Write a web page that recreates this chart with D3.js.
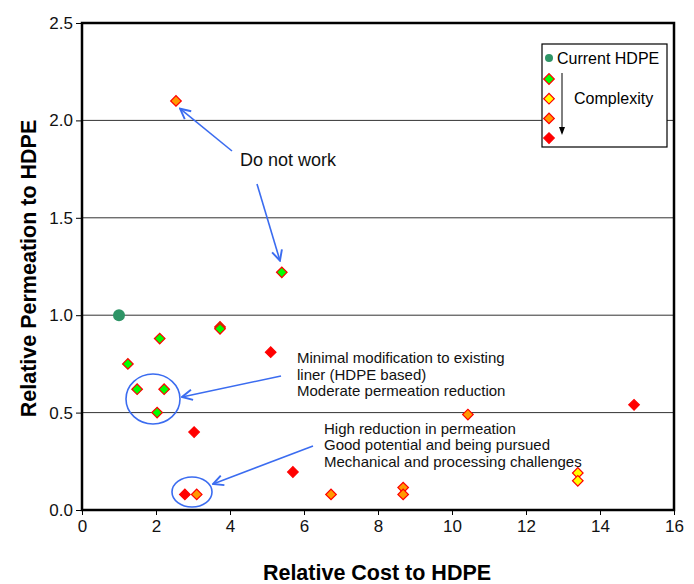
<html>
<head>
<script src="https://d3js.org/d3.v7.min.js"></script>
<style>
  body { margin: 0; background: #fff; }
  text { font-family: "Liberation Sans Narrow", "Arial Narrow", "Liberation Sans", Arial, sans-serif; }
</style>
</head>
<body>
<svg></svg>
<script>
// values
var cost   = [2.54, 5.4, 3.73, 3.73, 2.1, 5.1, 1.24, 1.49, 2.22, 2.03, 3.03, 5.7, 2.78, 3.1, 10.43, 14.92, 6.73, 8.68, 8.68, 13.4, 13.4];
var perm   = [2.10, 1.22, 0.94, 0.93, 0.88, 0.81, 0.75, 0.62, 0.62, 0.50, 0.40, 0.195, 0.08, 0.08, 0.49, 0.54, 0.08, 0.115, 0.08, 0.19, 0.15];
// complexity level 1..4 (green, yellow, orange, red)
var level  = [3, 1, 1, 1, 1, 4, 1, 1, 1, 1, 4, 4, 4, 3, 3, 4, 3, 3, 3, 2, 2];
var hdpe = {x: 1, y: 1};
var xTicks = [0, 2, 4, 6, 8, 10, 12, 14, 16];
var yTicks = [0, 0.5, 1.0, 1.5, 2.0, 2.5];
var levelColors = ["#00ff00", "#ffff00", "#ff9900", "#ff0000"];

var width = 694, height = 584;
var margin = {left: 82, right: 20, top: 23, bottom: 74};

var svg = d3.select("svg")
    .attr("width", width)
    .attr("height", height);

var x = d3.scaleLinear().domain([0, 16]).range([margin.left, width - margin.right]);
var y = d3.scaleLinear().domain([0, 2.5]).range([height - margin.bottom, margin.top]);

// gridlines
svg.append("g")
  .selectAll("line")
  .data(yTicks.slice(1, -1))
  .enter().append("line")
    .attr("x1", x(0)).attr("x2", x(16))
    .attr("y1", function(d) { return y(d); })
    .attr("y2", function(d) { return y(d); })
    .attr("stroke", "#333").attr("stroke-width", 1);

// axes
var xAxis = svg.append("g")
    .attr("transform", "translate(0," + y(0) + ")")
    .call(d3.axisBottom(x).tickValues(xTicks).tickSize(5).tickPadding(5).tickFormat(d3.format("d")));
var yAxis = svg.append("g")
    .attr("transform", "translate(" + x(0) + ",0)")
    .call(d3.axisLeft(y).tickValues(yTicks).tickSize(6).tickPadding(3).tickFormat(d3.format(".1f")));
[xAxis, yAxis].forEach(function(a) {
  a.select(".domain").remove();
  a.selectAll("text").attr("font-size", 17).attr("fill", "#111")
    .style("font-family", "'Liberation Sans Narrow', 'Arial Narrow', sans-serif");
  a.selectAll("line").attr("stroke", "#000");
});

// frame
svg.append("rect")
    .attr("x", x(0)).attr("y", y(2.5))
    .attr("width", x(16) - x(0)).attr("height", y(0) - y(2.5))
    .attr("fill", "none").attr("stroke", "#000").attr("stroke-width", 2.5);

// axis titles
svg.append("text")
    .attr("x", (x(0) + x(16)) / 2 - 1).attr("y", 580)
    .attr("text-anchor", "middle")
    .attr("font-size", 21.5).attr("font-weight", "bold")
    .style("font-family", "'Liberation Sans', Arial, sans-serif")
    .text("Relative Cost to HDPE");
svg.append("text")
    .attr("transform", "translate(36," + (y(1.25) + 2) + ") rotate(-90)")
    .attr("text-anchor", "middle")
    .attr("font-size", 21.5).attr("font-weight", "bold")
    .style("font-family", "'Liberation Sans', Arial, sans-serif")
    .text("Relative Permeation to HDPE");

// arrow marker
var blue = "#3b6cf0";
svg.append("defs").append("marker")
    .attr("id", "arr").attr("viewBox", "0 0 10 10")
    .attr("refX", 9).attr("refY", 5)
    .attr("markerWidth", 8).attr("markerHeight", 8)
    .attr("orient", "auto")
  .append("path")
    .attr("d", "M1,1 L9,5 L1,9")
    .attr("fill", "none").attr("stroke", blue).attr("stroke-width", 1.5);

function drawDiamond(g, cx, cy, lv) {
  g.append("path")
    .attr("d", d3.symbol().type(d3.symbolSquare).size(56)())
    .attr("transform", "translate(" + cx + "," + cy + ") rotate(45)")
    .attr("fill", levelColors[lv - 1])
    .attr("stroke", "#ff0000").attr("stroke-width", 1.2);
}

// points
var pts = svg.append("g");
svg.append("circle")
    .attr("cx", x(hdpe.x)).attr("cy", y(hdpe.y)).attr("r", 6)
    .attr("fill", "#2e9466");
for (var i = 0; i < cost.length; i++) {
  drawDiamond(pts, x(cost[i]), y(perm[i]), level[i]);
}

// annotations
function txt(tx, ty, s, size) {
  svg.append("text").attr("x", tx).attr("y", ty)
    .attr("font-size", size).attr("fill", "#111")
    .style("font-family", "'Liberation Sans', Arial, sans-serif")
    .text(s);
}
function arrow(x1, y1, x2, y2) {
  svg.append("line")
    .attr("x1", x1).attr("y1", y1).attr("x2", x2).attr("y2", y2)
    .attr("stroke", blue).attr("stroke-width", 1.6)
    .attr("marker-end", "url(#arr)");
}
txt(240, 166, "Do not work", 18);
arrow(232, 151, x(2.65), y(2.06));
arrow(257, 184, x(5.35), y(1.28));

svg.append("ellipse").attr("cx", 153).attr("cy", 399).attr("rx", 27).attr("ry", 25)
    .attr("fill", "none").attr("stroke", blue).attr("stroke-width", 1.6);
svg.append("ellipse").attr("cx", 192).attr("cy", 492).attr("rx", 20).attr("ry", 15)
    .attr("fill", "none").attr("stroke", blue).attr("stroke-width", 1.6);
arrow(281, 376, 182, 397);
arrow(313, 446, 213, 484);

var narrow = "'Liberation Sans Narrow', 'Arial Narrow', sans-serif";
[["Minimal modification to existing", 363], ["liner (HDPE based)", 380], ["Moderate permeation reduction", 396]].forEach(function(d) {
  svg.append("text").attr("x", 297).attr("y", d[1]).attr("font-size", 15)
    .attr("fill", "#111").style("font-family", narrow).text(d[0]);
});
[["High reduction in permeation", 434], ["Good potential and being pursued", 450], ["Mechanical and processing challenges", 467]].forEach(function(d) {
  svg.append("text").attr("x", 324).attr("y", d[1]).attr("font-size", 15)
    .attr("fill", "#111").style("font-family", narrow).text(d[0]);
});

// legend
var lg = svg.append("g");
lg.append("rect").attr("x", 542).attr("y", 44).attr("width", 125).attr("height", 103)
    .attr("fill", "#fff").attr("stroke", "#000").attr("stroke-width", 1.2);
lg.append("circle").attr("cx", 549).attr("cy", 58).attr("r", 4).attr("fill", "#2e9466");
lg.append("text").attr("x", 557).attr("y", 64).attr("font-size", 16)
    .style("font-family", "'Liberation Sans', Arial, sans-serif").text("Current HDPE");
levelColors.forEach(function(c, k) {
  drawDiamond(lg, 549, 79 + k * 19.7, k + 1);
});
lg.append("line").attr("x1", 562).attr("y1", 73).attr("x2", 562).attr("y2", 133)
    .attr("stroke", "#000").attr("stroke-width", 1);
lg.append("path").attr("d", "M559,127 L562,135 L565,127 Z").attr("fill", "#000");
lg.append("text").attr("x", 574).attr("y", 104).attr("font-size", 16)
    .style("font-family", "'Liberation Sans', Arial, sans-serif").text("Complexity");
</script>
</body>
</html>
